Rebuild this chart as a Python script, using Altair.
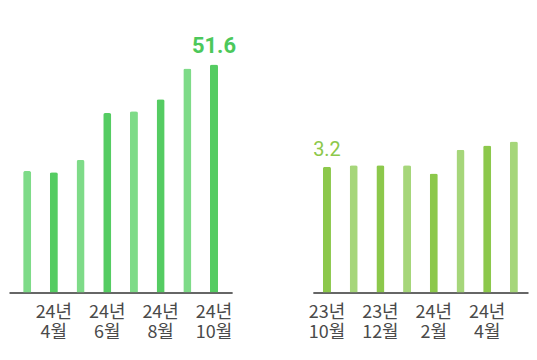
import altair as alt
import pandas as pd

# Left panel (cropped view): 24년 3월 ~ 24년 10월
left_months = ["24년 3월", "24년 4월", "24년 5월", "24년 6월", "24년 7월", "24년 8월", "24년 9월", "24년 10월"]
left_values = [27.5, 27.2, 30.0, 40.6, 41.0, 43.7, 50.7, 51.6]
left_tone = ["light", "dark", "light", "dark", "light", "dark", "light", "dark"]
left_ticks = ["24년 4월", "24년 6월", "24년 8월", "24년 10월"]
left_label = ["", "", "", "", "", "", "", "51.6"]

# Right panel (cropped view): 23년 10월 ~ 24년 5월
right_months = ["23년 10월", "23년 11월", "23년 12월", "24년 1월", "24년 2월", "24년 3월", "24년 4월", "24년 5월"]
right_values = [3.2, 3.24, 3.24, 3.24, 3.03, 3.63, 3.74, 3.84]
right_tone = ["dark", "light", "dark", "light", "dark", "light", "dark", "light"]
right_ticks = ["23년 10월", "23년 12월", "24년 2월", "24년 4월"]
right_label = ["3.2", "", "", "", "", "", "", ""]

FONT = "Noto Sans CJK KR"


def panel(months, values, tone, ticks, labels, colors, ymax, width, pad_outer, label_style):
    df = pd.DataFrame({"month": months, "value": values, "tone": tone, "label": labels})
    x = alt.X(
        "month:N",
        sort=months,
        scale=alt.Scale(paddingInner=0.70, paddingOuter=pad_outer),
        axis=alt.Axis(
            values=ticks,
            title=None,
            ticks=False,
            labelAngle=0,
            labelFont=FONT,
            labelFontSize=18,
            labelColor="#4a4a4a",
            labelPadding=11,
            labelLineHeight=20,
            labelExpr="split(datum.label, ' ')",
            domainColor="#333333",
            domainWidth=1.5,
            grid=False,
        ),
    )
    y = alt.Y("value:Q", scale=alt.Scale(domain=[0, ymax], nice=False), axis=None)
    bars = alt.Chart(df).mark_bar(cornerRadiusTopLeft=2, cornerRadiusTopRight=2).encode(
        x=x,
        y=y,
        color=alt.Color(
            "tone:N",
            scale=alt.Scale(domain=["dark", "light"], range=colors),
            legend=None,
        ),
    )
    text = alt.Chart(df).mark_text(baseline="alphabetic", dy=-11, **label_style).encode(
        x=alt.X("month:N", sort=months),
        y=alt.Y("value:Q"),
        text="label:N",
    )
    return alt.layer(bars, text).properties(
        width=width, height=284, view=alt.ViewConfig(stroke="transparent")
    )


left = panel(
    left_months, left_values, left_tone, left_ticks, left_label,
    ["#55cc62", "#7edb88"], 64.0, 224, 0.53,
    dict(font="Roboto", fontSize=22, fontWeight="bold", color="#4cc85a"),
)
right = panel(
    right_months, right_values, right_tone, right_ticks, right_label,
    ["#8cc84b", "#a6d67a"], 7.195, 216, 0.38,
    dict(font="Roboto", fontSize=20, fontWeight="normal", color="#8cc84b"),
)

chart = (
    alt.hconcat(left, right, spacing=81, bounds="flush")
    .resolve_scale(color="independent")
    .properties(padding=0)
    .configure_view(stroke="transparent")
    .configure(background="white")
)

chart.save("out.html", embed_options={"renderer": "svg", "actions": False})
